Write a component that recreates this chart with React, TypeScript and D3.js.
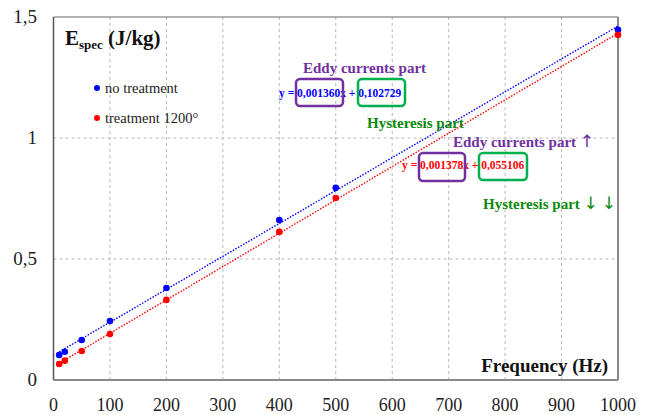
import React from "react";
import * as d3 from "d3";

const freqs = [10, 20, 50, 100, 200, 400, 500, 1000];
const noTreatment = [0.103, 0.117, 0.165, 0.244, 0.38, 0.661, 0.794, 1.447];
const treatment1200 = [0.066, 0.08, 0.12, 0.19, 0.331, 0.612, 0.752, 1.426];
const xTicks = [0, 100, 200, 300, 400, 500, 600, 700, 800, 900, 1000];
const yTicks = [0, 0.5, 1, 1.5];
const yTickLabels = ["0", "0,5", "1", "1,5"];
const fitBlue = { slope: 0.00136, intercept: 0.102729 };
const fitRed = { slope: 0.001378, intercept: 0.055106 };

const W = 652, H = 415;
const L = 53.5, R = 618, T = 17, B = 380;
const FONT = "'Liberation Serif', 'DejaVu Serif', serif";
const PURPLE = "#7030A0";
const GREEN_BOX = "#00B050";
const GREEN_TXT = "#0a8a0a";

export default function App() {
  const x = d3.scaleLinear().domain([0, 1000]).range([L, R]);
  const y = d3.scaleLinear().domain([0, 1.5]).range([B, T]);
  const fitLine = (f: { slope: number; intercept: number }) =>
    d3.line<number>().x((d) => x(d)).y((d) => y(f.slope * d + f.intercept))([10, 1000]) || "";

  return (
    <svg width={W} height={H} style={{ position: "absolute", left: 0, top: 0, background: "#fff" }} fontFamily={FONT}>
      {/* grid */}
      {xTicks.slice(1, -1).map((t) => (
        <line key={"gx" + t} x1={x(t)} x2={x(t)} y1={T} y2={B} stroke="#b8b8b8" strokeWidth={1} strokeDasharray="3,3" />
      ))}
      {yTicks.slice(1, -1).map((t) => (
        <line key={"gy" + t} x1={L} x2={R} y1={y(t)} y2={y(t)} stroke="#b8b8b8" strokeWidth={1} strokeDasharray="3,3" />
      ))}
      {/* frame */}
      <line x1={L} x2={R} y1={T} y2={T} stroke="#666" strokeWidth={1} />
      <line x1={R} x2={R} y1={T} y2={B} stroke="#888" strokeWidth={2} />
      <line x1={L} x2={L} y1={T} y2={B} stroke="#555" strokeWidth={1.5} />
      <line x1={L} x2={R} y1={B} y2={B} stroke="#888" strokeWidth={2} />

      {/* tick labels */}
      {xTicks.map((t) => (
        <text key={"tx" + t} x={x(t)} y={411} fontSize={18} textAnchor="middle" fill="#222">{t}</text>
      ))}
      {yTicks.map((t, i) => (
        <text key={"ty" + t} x={37} y={y(t) + 6} fontSize={19} textAnchor="end" fill="#222">{yTickLabels[i]}</text>
      ))}

      {/* trendlines */}
      <path d={fitLine(fitBlue)} stroke="#0000ff" strokeWidth={1.4} strokeDasharray="1.5,1.5" fill="none" />
      <path d={fitLine(fitRed)} stroke="#ff0000" strokeWidth={1.4} strokeDasharray="1.5,1.5" fill="none" />

      {/* points */}
      {freqs.map((f, i) => (
        <circle key={"b" + f} cx={x(f)} cy={y(noTreatment[i])} r={3.3} fill="#0000ff" />
      ))}
      {freqs.map((f, i) => (
        <circle key={"r" + f} cx={x(f)} cy={y(treatment1200[i])} r={3.3} fill="#ff0000" />
      ))}

      {/* axis titles */}
      <text x={65} y={45} fontSize={21} fontWeight="bold" fill="#111">
        E<tspan fontSize={13} dy={4}>spec</tspan><tspan dy={-4} fontSize={21}> (J/kg)</tspan>
      </text>
      <text x={608} y={372} fontSize={19} fontWeight="bold" fill="#111" textAnchor="end">Frequency (Hz)</text>

      {/* legend */}
      <circle cx={97} cy={88} r={3} fill="#0000ff" />
      <text x={105} y={93} fontSize={14.5} fill="#222">no treatment</text>
      <circle cx={97} cy={118} r={3} fill="#ff0000" />
      <text x={105} y={123} fontSize={14.5} fill="#222">treatment 1200°</text>

      {/* blue annotation */}
      <text x={303} y={73} fontSize={15} fontWeight="bold" fill={PURPLE}>Eddy currents part</text>
      <text x={279} y={97} fontSize={11.5} fontWeight="bold" fill="#0000ff">y = 0,001360x + 0,102729</text>
      <rect x={296} y={79} width={47} height={27} rx={4} fill="none" stroke={PURPLE} strokeWidth={2.5} />
      <rect x={358} y={79} width={47} height={27} rx={4} fill="none" stroke={GREEN_BOX} strokeWidth={2.5} />
      <text x={367} y={128} fontSize={15} fontWeight="bold" fill={GREEN_TXT}>Hysteresis part</text>

      {/* red annotation */}
      <text x={453} y={147} fontSize={15} fontWeight="bold" fill={PURPLE}>
        Eddy currents part <tspan fontSize={17} fontFamily="'DejaVu Sans', sans-serif" fontWeight="normal">↑</tspan>
      </text>
      <text x={402} y={169} fontSize={11.5} fontWeight="bold" fill="#ff0000">y = 0,001378x + 0,055106</text>
      <rect x={419} y={153} width={46} height={28} rx={4} fill="none" stroke={PURPLE} strokeWidth={2.5} />
      <rect x={479} y={153} width={48} height={27} rx={4} fill="none" stroke={GREEN_BOX} strokeWidth={2.5} />
      <text x={483} y={209} fontSize={15} fontWeight="bold" fill={GREEN_TXT}>
        Hysteresis part <tspan fontSize={17} fontFamily="'DejaVu Sans', sans-serif" fontWeight="normal" letterSpacing={4}>↓↓</tspan>
      </text>
    </svg>
  );
}
